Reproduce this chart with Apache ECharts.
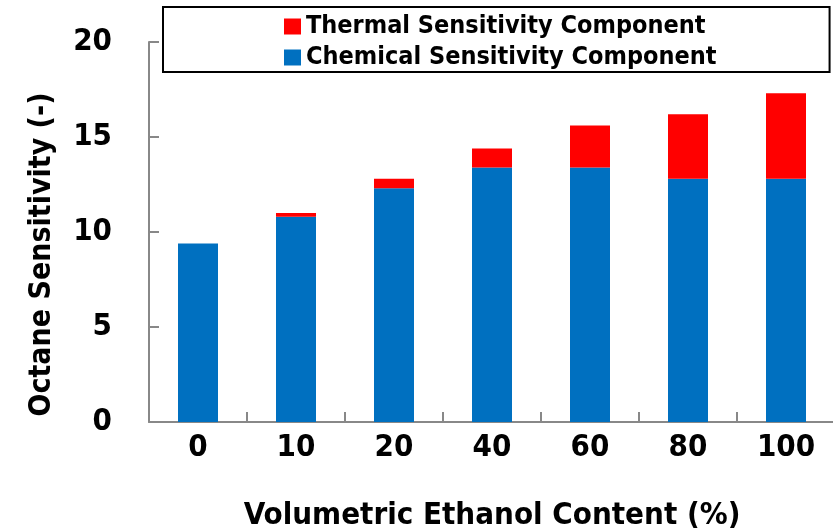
<!DOCTYPE html>
<html>
<head>
<meta charset="utf-8">
<script src="https://cdn.jsdelivr.net/npm/echarts@6/dist/echarts.min.js"></script>
<style>
html,body{margin:0;padding:0;background:#fff;}
#c{width:833px;height:532px;}
</style>
</head>
<body>
<div id="c"></div>
<script>
const categories = ['0', '10', '20', '40', '60', '80', '100'];
const chemical = [9.4, 10.8, 12.3, 13.4, 13.4, 12.8, 12.8];
const thermal = [0, 0.2, 0.5, 1.0, 2.2, 3.4, 4.5];
const yTicks = [0, 5, 10, 15, 20];

const FONT = '"Liberation Sans Narrow", "DejaVu Sans Condensed", "Noto Sans", sans-serif';
const chart = echarts.init(document.getElementById('c'), null, {renderer: 'canvas'});
chart.setOption({
  animation: false,
  backgroundColor: '#fff',
  textStyle: {fontFamily: FONT},
  grid: {left: 149, right: -2, top: 42, bottom: 110, containLabel: false, outerBoundsMode: 'none'},
  legend: {
    orient: 'vertical',
    left: 163,
    top: 7,
    data: ['Thermal Sensitivity Component', 'Chemical Sensitivity Component'],
    backgroundColor: '#fff',
    borderColor: '#000',
    borderWidth: 2,
    padding: [7, 113, 2, 121],
    itemWidth: 17,
    itemHeight: 16,
    itemGap: 6,
    icon: 'rect',
    textStyle: {fontFamily: FONT, fontWeight: 'bold', fontSize: 25, lineHeight: 25, color: '#000'}
  },
  xAxis: {
    type: 'category',
    data: categories,
    name: 'Volumetric Ethanol Content (%)',
    nameLocation: 'middle',
    nameGap: 78,
    nameTextStyle: {fontFamily: FONT, fontWeight: 'bold', fontSize: 31, color: '#000'},
    axisLine: {lineStyle: {color: '#888', width: 2}},
    axisTick: {show: true, inside: true, length: 10, lineStyle: {color: '#888', width: 2}},
    axisLabel: {margin: 10, fontFamily: FONT, fontWeight: 'bold', fontSize: 31, color: '#000'}
  },
  yAxis: {
    type: 'value',
    min: yTicks[0],
    max: yTicks[yTicks.length - 1],
    interval: 5,
    name: 'Octane Sensitivity (-)',
    nameLocation: 'middle',
    nameGap: 92,
    nameRotate: 90,
    nameTextStyle: {fontFamily: FONT, fontWeight: 'bold', fontSize: 30, color: '#000', padding: [0, 0, 0, -45]},
    axisLine: {show: true, lineStyle: {color: '#888', width: 2}},
    axisTick: {show: true, inside: true, length: 10, lineStyle: {color: '#888', width: 2}},
    splitLine: {show: false},
    axisLabel: {margin: 37, fontFamily: FONT, fontWeight: 'bold', fontSize: 31, color: '#000', padding: [12, 0, 0, 0]}
  },
  series: [
    {
      name: 'Chemical Sensitivity Component',
      type: 'bar',
      stack: 's',
      data: chemical,
      barWidth: 40,
      itemStyle: {color: '#0070C0'}
    },
    {
      name: 'Thermal Sensitivity Component',
      type: 'bar',
      stack: 's',
      data: thermal,
      barWidth: 40,
      itemStyle: {color: '#FF0000'}
    }
  ]
});
</script>
</body>
</html>
